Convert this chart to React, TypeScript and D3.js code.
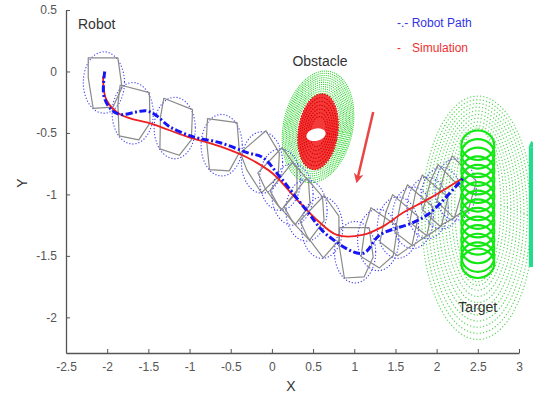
import React, { useEffect, useRef } from 'react';
import * as d3 from 'd3';

// robot path (blue dash-dot) and simulation (red) in data units
const pathX = [-2.03, -2.04, -1.95, -1.84, -1.65, -1.52, -1.40, -1.24, -0.96, -0.63, -0.30, -0.11, 0.10, 0.42, 0.67, 1.10, 1.31, 1.71, 1.92, 2.32];
const pathY = [0.0, -0.20, -0.31, -0.35, -0.33, -0.32, -0.36, -0.45, -0.53, -0.58, -0.66, -0.70, -0.86, -1.13, -1.33, -1.48, -1.33, -1.23, -1.15, -0.87];
const simX = [-2.05, -2.01, -1.84, -1.44, -1.03, -0.63, -0.30, 0.01, 0.30, 0.55, 0.79, 1.10, 1.35, 1.59, 1.92, 2.31];
const simY = [-0.04, -0.23, -0.35, -0.43, -0.53, -0.61, -0.70, -0.83, -1.04, -1.21, -1.33, -1.33, -1.26, -1.15, -1.03, -0.87];

// robot poses along the path
const robotX = [-2.04, -1.69, -1.18, -0.61, -0.12, 0.10, 0.25, 0.42, 0.61, 1.01, 1.29, 1.53, 1.71, 1.89, 2.06, 2.23];
const robotY = [-0.09, -0.34, -0.46, -0.60, -0.74, -0.88, -1.00, -1.13, -1.27, -1.47, -1.37, -1.27, -1.19, -1.11, -1.03, -0.96];
const robotAngle = [0, -10, -15, -5, 30, 35, 40, 40, 35, 0, -25, -30, -30, -30, -35, -35];
const robotShape = [[-0.19, 0.2], [0.17, 0.2], [0.22, -0.04], [0.11, -0.2], [-0.13, -0.21], [-0.19, 0.04]];
const robotRadius = 0.25;

// obstacle
const obstacleCenter = [0.56, -0.45];
const obstacleRadii = [0.42, 0.46];
const obstacleRings = [1, 0.96, 0.92, 0.88, 0.84, 0.8, 0.76, 0.72, 0.68, 0.64, 0.6];
const dangerCenter = [0.56, -0.49];
const dangerRadii = [0.24, 0.31];
const dangerRings = [1, 0.9, 0.8, 0.7, 0.6, 0.5, 0.4];
const arrowFrom = [1.23, -0.33];
const arrowTo = [1.04, -0.87];

// target
const targetX = 2.5;
const targetY = [-0.60, -0.67, -0.74, -0.81, -0.88, -0.95, -1.02, -1.09, -1.16, -1.23, -1.30, -1.37, -1.44, -1.51, -1.56];
const targetRadii = [0.2, 0.12];
const fieldRx = [0.68, 0.64, 0.60, 0.56, 0.52, 0.48, 0.44, 0.40, 0.36, 0.32, 0.28];
const fieldRy = [0.99, 0.95, 0.91, 0.87, 0.83, 0.79, 0.75, 0.71, 0.67, 0.64, 0.62];
const fieldCy = [-1.19, -1.18, -1.17, -1.16, -1.15, -1.14, -1.13, -1.12, -1.11, -1.10, -1.09];
const edgeArrowX = 3.15;
const edgeArrowY = [-1.59, -0.62];

const xTicks = [-2.5, -2, -1.5, -1, -0.5, 0, 0.5, 1, 1.5, 2, 2.5, 3];
const yTicks = [0.5, 0, -0.5, -1, -1.5, -2];

function App() {
  const svgRef = useRef<SVGSVGElement>(null);

  useEffect(() => {
    const width = 533;
    const height = 397;
    const font = 'Arial, "Liberation Sans", Helvetica, sans-serif';

    const svg = d3.select(svgRef.current);
    svg.selectAll('*').remove();
    svg.attr('width', width).attr('height', height).style('font-family', font);

    const x = d3.scaleLinear().domain([-2.5, 3]).range([66, 519]);
    const y = d3.scaleLinear().domain([-2.29, 0.5]).range([353, 10]);
    const kx = x(1) - x(0);
    const ky = y(0) - y(1);

    svg.append('defs').append('marker')
      .attr('id', 'arrowhead')
      .attr('viewBox', '0 0 10 10')
      .attr('refX', 5).attr('refY', 5)
      .attr('markerWidth', 4).attr('markerHeight', 4)
      .attr('orient', 'auto')
      .append('path')
      .attr('d', 'M0,0 L10,5 L0,10 L3,5 Z')
      .attr('fill', '#e84545');

    // target field (light green dotted rings)
    const field = svg.append('g');
    fieldRx.forEach((rx, i) => {
      field.append('ellipse')
        .attr('cx', x(targetX)).attr('cy', y(fieldCy[i]))
        .attr('rx', rx * kx).attr('ry', fieldRy[i] * ky)
        .attr('fill', 'none')
        .attr('stroke', '#5ad65a')
        .attr('stroke-width', 1.3)
        .attr('stroke-linecap', 'round')
        .attr('stroke-dasharray', '0.1,3.2');
    });

    // obstacle
    const obs = svg.append('g');
    const ox = x(obstacleCenter[0]);
    const oy = y(obstacleCenter[1]);
    obstacleRings.forEach(f => {
      obs.append('ellipse')
        .attr('cx', ox).attr('cy', oy)
        .attr('rx', obstacleRadii[0] * kx * f).attr('ry', obstacleRadii[1] * ky * f)
        .attr('transform', `rotate(12,${ox},${oy})`)
        .attr('fill', 'none')
        .attr('stroke', '#2ed42e')
        .attr('stroke-width', 1.2)
        .attr('stroke-linecap', 'round')
        .attr('stroke-dasharray', '0.1,2');
    });
    const dx = x(dangerCenter[0]);
    const dy = y(dangerCenter[1]);
    obs.append('ellipse')
      .attr('cx', dx).attr('cy', dy)
      .attr('rx', dangerRadii[0] * kx).attr('ry', dangerRadii[1] * ky)
      .attr('transform', `rotate(8,${dx},${dy})`)
      .attr('fill', '#f23a3a');
    dangerRings.forEach(f => {
      obs.append('ellipse')
        .attr('cx', dx).attr('cy', dy)
        .attr('rx', dangerRadii[0] * kx * f).attr('ry', dangerRadii[1] * ky * f)
        .attr('transform', `rotate(8,${dx},${dy})`)
        .attr('fill', 'none')
        .attr('stroke', '#e00000')
        .attr('stroke-width', 1.2)
        .attr('stroke-dasharray', '1.5,1.2');
    });
    obs.append('ellipse')
      .attr('cx', dx - 2).attr('cy', dy + 3)
      .attr('rx', 0.12 * kx).attr('ry', 0.05 * ky)
      .attr('transform', `rotate(-12,${dx - 2},${dy + 3})`)
      .attr('fill', '#fff');

    // red arrow
    svg.append('line')
      .attr('x1', x(arrowFrom[0])).attr('y1', y(arrowFrom[1]))
      .attr('x2', x(arrowTo[0])).attr('y2', y(arrowTo[1]))
      .attr('stroke', '#e84545')
      .attr('stroke-width', 2.5)
      .attr('marker-end', 'url(#arrowhead)');

    // robots
    const robots = svg.append('g');
    robotX.forEach((cx, i) => {
      const a = (robotAngle[i] * Math.PI) / 180;
      const pts = robotShape.map(([px, py]) => [
        x(cx + px * Math.cos(a) - py * Math.sin(a)),
        y(robotY[i] + px * Math.sin(a) + py * Math.cos(a)),
      ]);
      robots.append('ellipse')
        .attr('cx', x(cx)).attr('cy', y(robotY[i]))
        .attr('rx', robotRadius * kx).attr('ry', robotRadius * ky)
        .attr('fill', 'none')
        .attr('stroke', '#4848f0')
        .attr('stroke-width', 1.3)
        .attr('stroke-linecap', 'round')
        .attr('stroke-dasharray', '0.1,3');
      robots.append('polygon')
        .attr('points', pts.map(p => p.join(',')).join(' '))
        .attr('fill', 'none')
        .attr('stroke', '#8a8a8a')
        .attr('stroke-width', 1.2)
        .attr('stroke-linejoin', 'round');
    });

    // target stack
    targetY.forEach(ty => {
      svg.append('ellipse')
        .attr('cx', x(targetX)).attr('cy', y(ty))
        .attr('rx', targetRadii[0] * kx).attr('ry', targetRadii[1] * ky)
        .attr('fill', 'none')
        .attr('stroke', '#12e812')
        .attr('stroke-width', 2.2);
    });

    // edge arrow (cut off at right)
    svg.append('line')
      .attr('x1', x(edgeArrowX)).attr('y1', y(edgeArrowY[0]))
      .attr('x2', x(edgeArrowX)).attr('y2', y(edgeArrowY[1]))
      .attr('stroke', '#22dc8c')
      .attr('stroke-width', 5);
    svg.append('path')
      .attr('d', `M${x(edgeArrowX) - 3},${y(edgeArrowY[1])} L${x(edgeArrowX)},${y(edgeArrowY[1]) - 7} L${x(edgeArrowX) + 6},${y(edgeArrowY[1])} Z`)
      .attr('fill', '#22dc8c');

    // paths
    const simLine = d3.line<number>()
      .x((d, i) => x(simX[i]))
      .y((d, i) => y(simY[i]))
      .curve(d3.curveCatmullRom);
    svg.append('path')
      .attr('d', simLine(simY))
      .attr('fill', 'none')
      .attr('stroke', '#ee2020')
      .attr('stroke-width', 1.8);

    const robotLine = d3.line<number>()
      .x((d, i) => x(pathX[i]))
      .y((d, i) => y(pathY[i]))
      .curve(d3.curveCatmullRom);
    svg.append('path')
      .attr('d', robotLine(pathY))
      .attr('fill', 'none')
      .attr('stroke', '#1515f5')
      .attr('stroke-width', 3)
      .attr('stroke-dasharray', '7,2.5,2,2.5');

    // axes
    const axisColor = '#555';
    const xAxis = svg.append('g').attr('transform', `translate(0,${y(-2.29)})`)
      .call(d3.axisBottom(x).tickValues(xTicks).tickSizeInner(-4).tickSizeOuter(0).tickPadding(9).tickFormat(d => String(d)));
    const yAxis = svg.append('g').attr('transform', `translate(${x(-2.5)},0)`)
      .call(d3.axisLeft(y).tickValues(yTicks).tickSizeInner(-4).tickSizeOuter(0).tickPadding(9).tickFormat(d => String(d)));
    [xAxis, yAxis].forEach(g => {
      g.select('.domain').attr('stroke', axisColor).attr('stroke-width', 1.3);
      g.selectAll('.tick line').attr('stroke', axisColor);
      g.selectAll('.tick text').attr('fill', '#555').style('font-size', '12px').style('font-family', font);
    });

    svg.append('text')
      .attr('x', 291).attr('y', 391)
      .attr('text-anchor', 'middle')
      .attr('fill', '#333').style('font-size', '14px')
      .text('X');
    svg.append('text')
      .attr('transform', 'translate(27,183) rotate(-90)')
      .attr('text-anchor', 'middle')
      .attr('fill', '#333').style('font-size', '14px')
      .text('Y');

    // annotations
    svg.append('text').attr('x', 78).attr('y', 29).attr('fill', '#333').style('font-size', '14px').text('Robot');
    svg.append('text').attr('x', 320).attr('y', 66).attr('text-anchor', 'middle').attr('fill', '#333').style('font-size', '14px').text('Obstacle');
    svg.append('text').attr('x', x(targetX)).attr('y', 312).attr('text-anchor', 'middle').attr('fill', '#333').style('font-size', '14px').text('Target');

    // legend
    svg.append('text').attr('x', 397).attr('y', 27).attr('fill', '#3434e6').style('font-size', '12px').text('-.- Robot Path');
    svg.append('text').attr('x', 397).attr('y', 52).attr('fill', '#ee3030').style('font-size', '12px').text('-');
    svg.append('text').attr('x', 412).attr('y', 52).attr('fill', '#ee3030').style('font-size', '12px').text('Simulation');
  }, []);

  return <svg ref={svgRef} style={{ position: 'absolute', left: 0, top: 0 }}></svg>;
}

export default App;
